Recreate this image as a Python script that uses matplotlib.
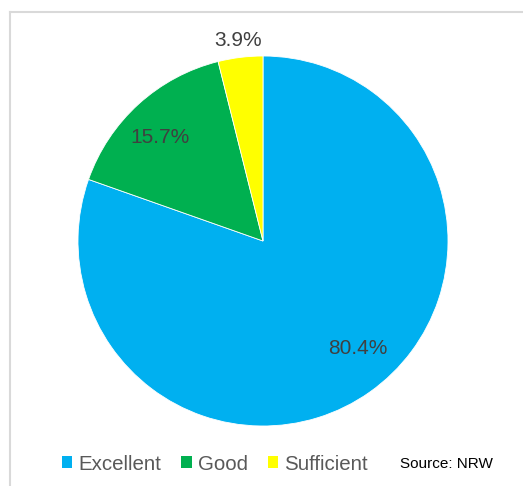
import matplotlib
matplotlib.use("Agg")
import matplotlib.pyplot as plt
import numpy as np
from matplotlib.lines import Line2D
from matplotlib.patches import Patch

categories = ["Excellent", "Good", "Sufficient"]
shares = [80.4, 15.7, 3.9]
colors = ["#00B0F0", "#00B050", "#FFFF00"]
source = "Source: NRW"

W, H = 523, 486
fig = plt.figure(figsize=(W / 100, H / 100), dpi=100)
plt.rcParams["font.family"] = ["Liberation Sans", "DejaVu Sans"]

# pie centre (263, 241) px, radius 185 px
cx, cy, r = 263, 241, 185
ax = fig.add_axes([(cx - r) / W, (H - cy - r) / H, 2 * r / W, 2 * r / H])
wedges, _ = ax.pie(shares, colors=colors, startangle=90, counterclock=False,
                   wedgeprops=dict(edgecolor="white", linewidth=0.6))
ax.set_xlim(-1, 1)
ax.set_ylim(-1, 1)
ax.set_aspect("equal")
ax.axis("off")

# label radius / angle nudge per slice (last one sits outside, like Excel)
label_r = [0.775, 0.79, 1.09]
label_shift = [6.3, 2.4, 0.0]
for w, v, lr, sh in zip(wedges, shares, label_r, label_shift):
    mid = np.deg2rad((w.theta1 + w.theta2) / 2 + sh)
    ax.text(lr * np.cos(mid), lr * np.sin(mid), f"{v:.1f}%",
            ha="center", va="center", fontsize=15, color="#404040",
            clip_on=False)

handles = [Patch(facecolor=c, edgecolor="none") for c in colors]
fig.legend(handles, categories, loc="center left", ncol=3, frameon=False,
           bbox_to_anchor=(62 / W, 1 - 464 / H), fontsize=14.8,
           handlelength=0.5, handleheight=0.5, handletextpad=0.3,
           columnspacing=0.97, labelcolor="#595959", borderaxespad=0,
           borderpad=0)
fig.text(400 / W, 1 - 464 / H, source, ha="left", va="center",
         fontsize=11, color="black")

# light grey frame (left and top edge visible)
fig.add_artist(Line2D([9.5 / W, 9.5 / W], [0, 1 - 12.5 / H],
                      color="#D9D9D9", lw=1.5, transform=fig.transFigure))
fig.add_artist(Line2D([9.5 / W, 1], [1 - 12.5 / H, 1 - 12.5 / H],
                      color="#D9D9D9", lw=1.5, transform=fig.transFigure))

fig.savefig("out.png", dpi=100, facecolor="white")
